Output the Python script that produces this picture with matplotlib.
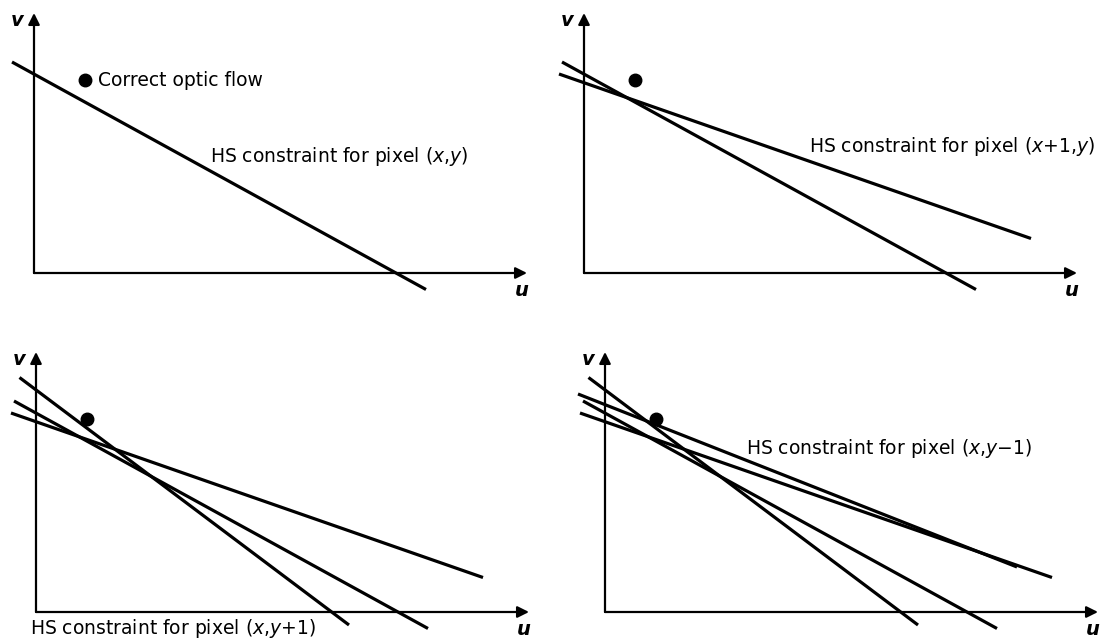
import matplotlib
matplotlib.use("Agg")
import matplotlib.pyplot as plt

# ---------------- data ----------------
# HS constraint lines in (u, v) units: start and end points
line_names = ["(x,y)", "(x+1,y)", "(x,y+1)", "(x,y-1)"]
line_u_start = [-0.22, -0.25, -0.165, -0.27]
line_v_start = [2.11, 1.99, 2.345, 2.18]
line_u_end = [3.92, 4.47, 3.13, 4.12]
line_v_end = [-0.165, 0.345, -0.13, 0.45]

# which lines appear in each panel (indices into the lists above)
panel_lines = [[0], [0, 1], [2, 0, 1], [2, 0, 1, 3]]

# correct optic flow point
flow_u = 0.51
flow_v = 1.93

# axis extents
u_axis_len = 4.93
v_axis_len = 2.60

# label texts per panel
panel_labels = [
    r"HS constraint for pixel ($\mathit{x{,}y}$)",
    r"HS constraint for pixel ($\mathit{x{+}1{,}y}$)",
    r"HS constraint for pixel ($\mathit{x{,}y{+}1}$)",
    r"HS constraint for pixel ($\mathit{x{,}y{-}1}$)",
]
label_pos = [(1.76, 1.16), (2.25, 1.26), (-0.06, -0.17), (1.41, 1.64)]
flow_text = "Correct optic flow"

# ---------------- layout ----------------
W, H = 1102, 639
plt.rcParams["font.family"] = ["DejaVu Sans"]
plt.rcParams["mathtext.fontset"] = "dejavusans"

fig = plt.figure(figsize=(W / 100, H / 100), dpi=100)
fig.patch.set_facecolor("white")

# panel boxes (pixel) and axis origins (pixel)
boxes = [(0, 0, 551, 320), (551, 0, 551, 320), (0, 320, 551, 319), (551, 320, 551, 319)]
origins = [(34, 273), (584, 273), (36, 612), (605, 612)]
scale = 100.0

for p, ((x0, y0, w, h), (ox, oy)) in enumerate(zip(boxes, origins)):
    ax = fig.add_axes([x0 / W, 1 - (y0 + h) / H, w / W, h / H])
    ax.set_xlim((x0 - ox) / scale, (x0 + w - ox) / scale)
    ax.set_ylim((oy - (y0 + h)) / scale, (oy - y0) / scale)
    ax.axis("off")

    # axes with arrows
    arrow_kw = dict(arrowstyle="-|>", color="black", lw=1.6,
                    mutation_scale=17, shrinkA=0, shrinkB=0)
    ax.annotate("", xy=(0, v_axis_len), xytext=(0, 0), arrowprops=arrow_kw)
    ax.annotate("", xy=(u_axis_len, 0), xytext=(0, 0), arrowprops=arrow_kw)
    ax.text(-0.17, 2.52, "v", fontsize=14, style="italic", fontweight="bold",
            ha="center", va="center")
    ax.text(4.88, -0.175, "u", fontsize=14, style="italic", fontweight="bold",
            ha="center", va="center")

    # constraint lines
    for i in panel_lines[p]:
        ax.plot([line_u_start[i], line_u_end[i]], [line_v_start[i], line_v_end[i]],
                color="black", lw=2.3, solid_capstyle="butt", clip_on=False)

    # correct optic flow point
    ax.plot([flow_u], [flow_v], "o", color="black", ms=9, clip_on=False)

    if p == 0:
        ax.text(flow_u + 0.13, flow_v, flow_text, fontsize=13.5,
                ha="left", va="center")

    lx, ly = label_pos[p]
    ax.text(lx, ly, panel_labels[p], fontsize=13.5, ha="left", va="center")

fig.savefig("out.png", dpi=100, facecolor="white")
